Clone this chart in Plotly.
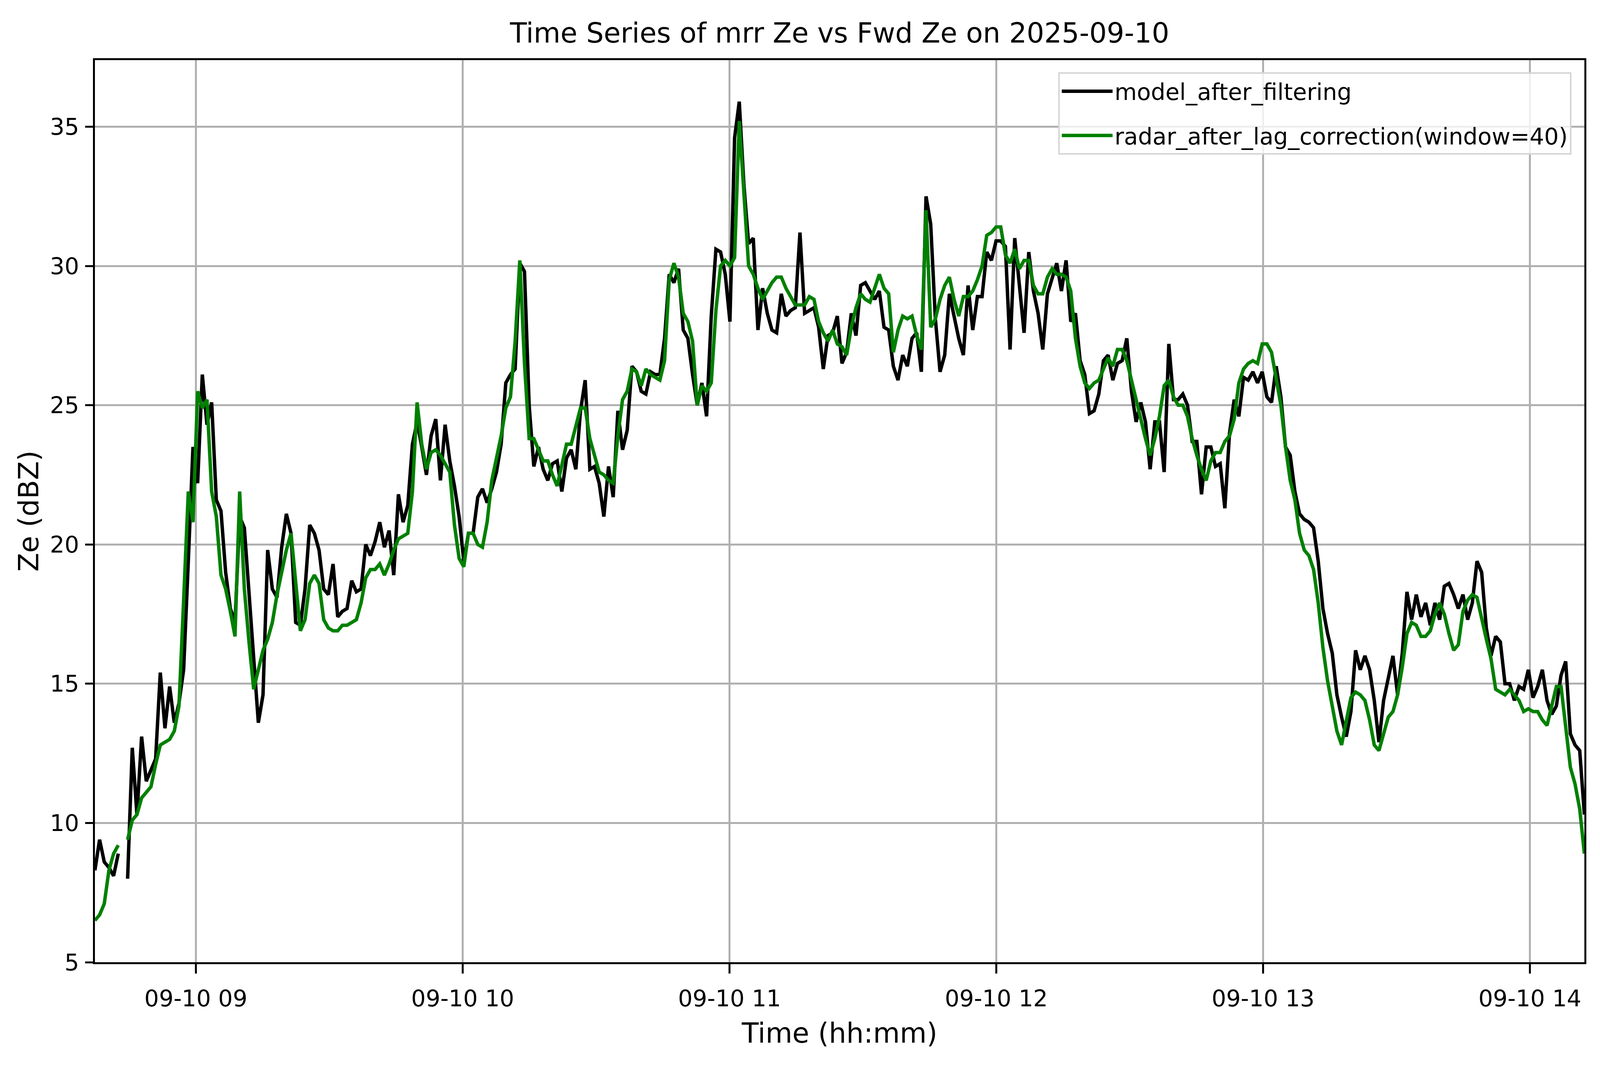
import pandas as pd
import plotly.graph_objects as go

# one sample every 63 s starting 08:37:18
start_time = '2025-09-10 08:37:18'
step = '63s'

model_ze = [
    8.3, 9.4, 8.6, 8.4, 8.1, 8.9, None, 8.0, 12.7, 10.3,
    13.1, 11.5, 11.9, 12.3, 15.4, 13.4, 14.9, 13.6, 14.3, 15.5,
    19.4, 23.5, 22.2, 26.1, 24.3, 25.1, 21.6, 21.2, 19.0, 17.7,
    17.2, 21.0, 20.6, 18.4, 16.2, 13.6, 14.6, 19.8, 18.4, 18.1,
    19.9, 21.1, 20.4, 17.2, 17.1, 18.4, 20.7, 20.4, 19.8, 18.4,
    18.2, 19.3, 17.4, 17.6, 17.7, 18.7, 18.3, 18.4, 20.0, 19.6,
    20.1, 20.8, 19.9, 20.5, 18.9, 21.8, 20.8, 21.4, 23.6, 24.4,
    23.5, 22.5, 23.9, 24.5, 22.3, 24.3, 23.0, 22.1, 21.0, 19.4,
    20.4, 20.4, 21.7, 22.0, 21.5, 22.0, 22.6, 23.6, 25.8, 26.1,
    26.3, 30.1, 29.8, 25.0, 22.8, 23.5, 22.7, 22.3, 22.9, 23.0,
    21.9, 23.1, 23.4, 22.7, 24.8, 25.9, 22.7, 22.8, 22.2, 21.0,
    22.8, 21.7, 24.8, 23.4, 24.1, 26.4, 26.2, 25.5, 25.4, 26.2,
    26.1, 26.1, 27.4, 29.7, 29.4, 29.9, 27.7, 27.4, 26.1, 25.0,
    25.8, 24.6, 28.2, 30.6, 30.5, 29.7, 28.0, 34.6, 35.9, 32.9,
    30.8, 31.0, 27.7, 29.2, 28.3, 27.7, 27.6, 29.0, 28.2, 28.4,
    28.5, 31.2, 28.3, 28.4, 28.5, 27.8, 26.3, 27.5, 27.6, 28.2,
    26.5, 26.9, 28.3, 27.5, 29.3, 29.4, 29.1, 28.8, 29.1, 27.8,
    27.7, 26.4, 25.9, 26.8, 26.4, 27.4, 27.6, 26.2, 32.5, 31.5,
    28.1, 26.2, 26.8, 29.0, 28.2, 27.4, 26.8, 29.3, 27.7, 28.9,
    28.9, 30.5, 30.2, 30.9, 30.9, 30.7, 27.0, 31.0, 29.3, 27.6,
    30.5, 29.1, 28.3, 27.0, 29.0, 29.6, 30.1, 29.1, 30.2, 28.0,
    28.3, 26.6, 26.1, 24.7, 24.8, 25.4, 26.6, 26.8, 25.9, 26.5,
    26.6, 27.4, 25.5, 24.4, 25.1, 24.4, 22.7, 24.4, 24.4, 22.6,
    27.2, 25.2, 25.2, 25.4, 25.0, 23.7, 23.7, 21.8, 23.5, 23.5,
    22.8, 22.9, 21.3, 24.0, 25.2, 24.6, 26.0, 25.9, 26.2, 25.8,
    26.2, 25.3, 25.1, 26.4, 25.3, 23.5, 23.2, 21.9, 21.1, 20.9,
    20.8, 20.6, 19.4, 17.7, 16.8, 16.1, 14.6, 13.8, 13.1, 14.0,
    16.2, 15.5, 16.0, 15.5, 14.4, 12.9, 14.4, 15.2, 16.0, 14.6,
    16.1, 18.3, 17.3, 18.2, 17.4, 17.9, 17.1, 17.9, 17.3, 18.5,
    18.6, 18.2, 17.7, 18.2, 17.3, 17.9, 19.4, 19.0, 17.0, 16.0,
    16.7, 16.5, 15.0, 15.0, 14.4, 14.9, 14.8, 15.5, 14.5, 14.9,
    15.5, 14.4, 13.9, 14.2, 15.3, 15.8, 13.2, 12.8, 12.6, 10.3,
]

radar_ze = [
    6.5, 6.7, 7.1, 8.3, 8.9, 9.2, None, 9.4, 10.1, 10.3,
    10.9, 11.1, 11.3, 12.1, 12.8, 12.9, 13.0, 13.3, 14.2, 18.0,
    21.9, 20.8, 25.5, 24.9, 25.2, 21.9, 21.0, 18.9, 18.4, 17.6,
    16.7, 21.9, 18.4, 16.5, 14.8, 15.5, 16.2, 16.6, 17.2, 18.2,
    19.0, 19.8, 20.4, 18.6, 16.9, 17.3, 18.6, 18.9, 18.6, 17.3,
    17.0, 16.9, 16.9, 17.1, 17.1, 17.2, 17.3, 17.9, 18.8, 19.1,
    19.1, 19.3, 18.9, 19.3, 19.8, 20.2, 20.3, 20.4, 21.9, 25.1,
    23.6, 22.7, 23.3, 23.4, 23.2, 22.9, 22.6, 20.7, 19.5, 19.2,
    20.4, 20.4, 20.0, 19.9, 20.8, 22.3, 23.1, 23.9, 24.9, 25.3,
    27.3, 30.2, 26.5, 23.8, 23.8, 23.4, 23.0, 23.0, 22.5, 22.1,
    22.8, 23.6, 23.6, 24.2, 24.9, 24.9, 23.8, 23.2, 22.6, 22.5,
    22.3, 22.2, 23.9, 25.2, 25.5, 26.3, 26.2, 25.7, 26.3, 26.1,
    26.0, 25.9, 26.6, 29.5, 30.1, 29.6, 28.3, 28.0, 27.3, 25.0,
    25.7, 25.5, 25.8, 28.4, 30.0, 30.2, 30.0, 30.3, 35.2, 32.5,
    30.0, 29.7, 29.2, 28.8, 29.1, 29.4, 29.6, 29.6, 29.2, 28.9,
    28.6, 28.6, 28.6, 28.9, 28.8, 28.0, 27.6, 27.3, 27.7, 27.2,
    27.1, 26.8, 27.8, 28.5, 29.0, 28.8, 28.7, 29.2, 29.7, 29.2,
    29.0, 26.9, 27.7, 28.2, 28.1, 28.2, 27.5, 27.0, 32.0, 27.8,
    28.1, 28.8, 29.3, 29.6, 28.8, 28.2, 28.9, 28.9, 29.1, 29.5,
    30.0, 31.1, 31.2, 31.4, 31.4, 30.4, 30.1, 30.6, 29.9, 30.2,
    30.2, 29.3, 29.0, 29.0, 29.6, 29.9, 29.7, 29.7, 29.6, 29.1,
    27.4, 26.4, 25.8, 25.6, 25.8, 25.9, 26.3, 26.7, 26.4, 27.0,
    27.0, 26.6, 25.9, 25.2, 24.4, 23.8, 23.2, 23.8, 24.6, 25.7,
    25.9, 25.3, 25.0, 25.0, 24.6, 23.8, 23.2, 22.7, 22.3, 23.0,
    23.3, 23.3, 23.7, 23.9, 24.5, 25.8, 26.3, 26.5, 26.6, 26.5,
    27.2, 27.2, 26.9, 25.9, 25.0, 23.5, 22.3, 21.6, 20.4, 19.8,
    19.6, 19.1, 17.9, 16.3, 15.1, 14.2, 13.3, 12.8, 13.6, 14.5,
    14.7, 14.6, 14.4, 13.7, 12.8, 12.6, 13.2, 13.8, 14.0, 14.6,
    15.6, 16.8, 17.2, 17.1, 16.7, 16.7, 16.9, 17.5, 17.9, 17.5,
    16.8, 16.2, 16.4, 17.6, 18.0, 18.2, 18.1, 17.3, 16.6, 15.9,
    14.8, 14.7, 14.6, 14.8, 14.6, 14.4, 14.0, 14.1, 14.0, 14.0,
    13.7, 13.5, 14.2, 14.9, 14.9, 13.5, 12.0, 11.4, 10.5, 8.9,
]

y_ticks = [5, 10, 15, 20, 25, 30, 35]

times = pd.date_range(start_time, periods=len(model_ze), freq=step)

# only 4096 px of the window width end up in the photo, so squeeze x
W, H = 4096, 2740
SX = W / 4995
F = 0.85
font = 'DejaVu Sans'

fig = go.Figure()
fig.add_trace(go.Scatter(x=times, y=model_ze, mode='lines', name='model_after_filtering',
                         legendgroup='model', line=dict(color='black', width=8.8)))
fig.add_trace(go.Scatter(x=times, y=radar_ze, mode='lines', name='radar_after_lag_correction(window=40)',
                         legendgroup='radar', line=dict(color='green', width=8.8)))

fig.update_layout(
    width=W, height=H,
    margin=dict(l=296 * SX, r=49 * SX, t=154, b=H - 2464, pad=0),
    paper_bgcolor='white', plot_bgcolor='white',
    font=dict(family=font, color='black', size=69 * F),
    title=dict(text='Time Series of mrr Ze vs Fwd Ze on 2025-09-10', xref='paper', x=0.5, xanchor='center',
               yref='container', y=1 - 84 / H, yanchor='middle', font=dict(size=83 * F, family=font)),
    legend=dict(x=1 - 40 / 4650, y=1 - 31 / 2310, xanchor='right', yanchor='top',
                bgcolor='rgba(255,255,255,0.8)', bordercolor='#d6d6d6', borderwidth=4,
                font=dict(size=69 * F, family=font), itemwidth=130, tracegroupgap=34),
    showlegend=True,
    annotations=[dict(text='Ze (dBZ)', xref='paper', yref='paper', x=-206 / 4650, y=0.5,
                      xanchor='center', yanchor='middle', textangle=-90, showarrow=False,
                      font=dict(size=83 * F, family=font))],
)

fig.update_xaxes(
    range=[times[0], times[-1]],
    tick0='2025-09-10 09:00', dtick=3600000, tickformat='%m-%d %H',
    showgrid=True, gridcolor='#b0b0b0', gridwidth=4.6,
    showline=True, linecolor='black', linewidth=4.6, mirror=True,
    ticks='outside', ticklen=24, tickwidth=4.6, tickcolor='black',
    ticklabelstandoff=14, tickfont=dict(size=69 * F),
    title=dict(text='Time (hh:mm)', font=dict(size=83 * F), standoff=32),
    zeroline=False,
)
fig.update_yaxes(
    range=[5.0, 37.39], tickvals=y_ticks,
    showgrid=True, gridcolor='#b0b0b0', gridwidth=4.6,
    showline=True, linecolor='black', linewidth=4.6, mirror=True,
    ticks='outside', ticklen=20, tickwidth=4.6, tickcolor='black',
    ticklabelstandoff=4, tickfont=dict(size=69 * F),
    zeroline=False,
)

fig.write_html('out.html', config={'displayModeBar': False},
               post_script="document.body.style.margin='0';document.body.style.overflow='hidden';")
